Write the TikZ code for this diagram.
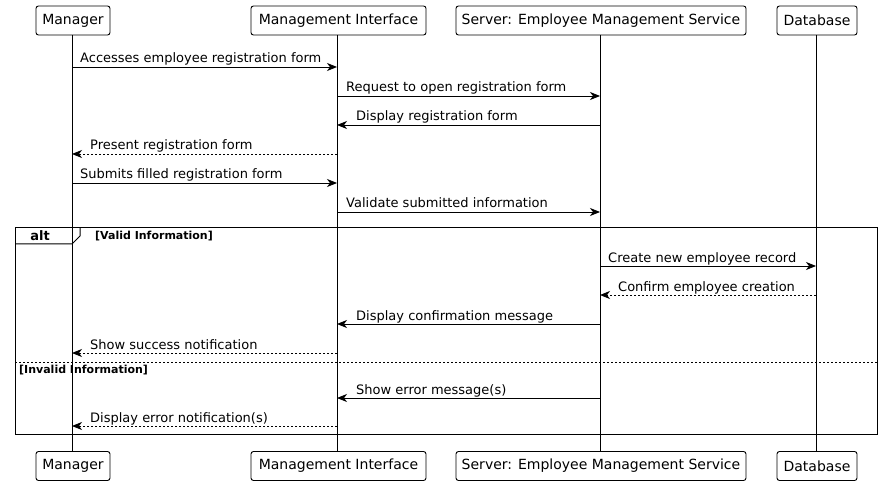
\documentclass[tikz,border=0pt]{standalone}
\usepackage{fontspec}
\setmainfont{DejaVu Sans}
\usetikzlibrary{arrows.meta}
\begin{document}
\begin{tikzpicture}[x=1pt,y=-1pt,
  part/.style={draw,rounded corners=2.5pt,line width=0.9pt,minimum height=29pt,inner sep=0pt,font=\fontsize{14}{16}\selectfont,fill=white},
  life/.style={line width=0.9pt},
  msg/.style={line width=0.9pt,-{Stealth[length=10pt,width=8pt,inset=3pt]}},
  ret/.style={msg,dash pattern=on 2pt off 2pt},
  lbl/.style={font=\fontsize{13}{15}\selectfont,inner sep=0pt,anchor=base west},
  grd/.style={font=\fontsize{11}{12}\bfseries\selectfont,inner sep=0pt,anchor=base west}]
\useasboundingbox (0,0) rectangle (883,486);
% participants
\node[part,minimum width=74pt] (mT) at (73,20.5) {Manager};
\node[part,minimum width=175pt] (iT) at (338.5,20.5) {Management Interface};
\node[part,minimum width=290pt] (sT) at (601,20.5) {Server: Employee Management Service};
\node[part,minimum width=80pt] (dT) at (817,20.5) {Database};
\node[part,minimum width=74pt] (mB) at (73,466) {Manager};
\node[part,minimum width=175pt] (iB) at (338.5,466) {Management Interface};
\node[part,minimum width=290pt] (sB) at (601,466) {Server: Employee Management Service};
\node[part,minimum width=80pt] (dB) at (817,466) {Database};
\draw[life] (72,35) coordinate (mL0) -- (72,451) coordinate (mL1);
\draw[life] (337,35) coordinate (iL0) -- (337,451);
\draw[life] (600,35) coordinate (sL0) -- (600,451);
\draw[life] (816,35) coordinate (dL0) -- (816,451);
% messages
\coordinate (m1) at (72,67);  \coordinate (i1) at (337,67);
\coordinate (i2) at (337,96); \coordinate (s2) at (600,96);
\coordinate (s3) at (600,125); \coordinate (i3) at (337,125);
\coordinate (i4) at (337,154); \coordinate (m4) at (72,154);
\coordinate (m5) at (72,183); \coordinate (i5) at (337,183);
\coordinate (i6) at (337,212); \coordinate (s6) at (600,212);
\coordinate (s7) at (600,266); \coordinate (d7) at (816,266);
\coordinate (d8) at (816,295); \coordinate (s8) at (600,295);
\coordinate (s9) at (600,324); \coordinate (i9) at (337,324);
\coordinate (i10) at (337,353); \coordinate (m10) at (72,353);
\coordinate (s11) at (600,398); \coordinate (i11) at (337,398);
\coordinate (i12) at (337,426); \coordinate (m12) at (72,426);
\draw[msg] (m1) -- (i1); \node[lbl] (t1) at (80,63) {Accesses employee registration form};
\draw[msg] (i2) -- (s2); \node[lbl] (t2) at (346,92) {Request to open registration form};
\draw[msg] (s3) -- (i3); \node[lbl] (t3) at (356,121) {Display registration form};
\draw[ret] (i4) -- (m4); \node[lbl] (t4) at (90,150) {Present registration form};
\draw[msg] (m5) -- (i5); \node[lbl] (t5) at (80,179) {Submits filled registration form};
\draw[msg] (i6) -- (s6); \node[lbl] (t6) at (346,208) {Validate submitted information};
\draw[msg] (s7) -- (d7); \node[lbl] (t7) at (608,262) {Create new employee record};
\draw[ret] (d8) -- (s8); \node[lbl] (t8) at (618,291) {Confirm employee creation};
\draw[msg] (s9) -- (i9); \node[lbl] (t9) at (356,320) {Display confirmation message};
\draw[ret] (i10) -- (m10); \node[lbl] (t10) at (90,349) {Show success notification};
\draw[msg] (s11) -- (i11); \node[lbl] (t11) at (356,394) {Show error message(s)};
\draw[ret] (i12) -- (m12); \node[lbl] (t12) at (90,422) {Display error notification(s)};
% alt frame
\draw[line width=1pt] (15,228) coordinate (fA) rectangle (877,434) coordinate (fB);
\draw[line width=1pt] (15,244) -- (72,244) -- (80,236) -- (80,228);
\node[font=\fontsize{13}{15}\bfseries\selectfont,inner sep=0pt] (alt) at (40,236) {alt};
\node[grd] (g1) at (95,240) {[Valid Information]};
\draw[line width=0.9pt,dash pattern=on 2pt off 2pt] (15,362) -- (877,362);
\node[grd] (g2) at (19,373) {[Invalid Information]};
\end{tikzpicture}
\end{document}
